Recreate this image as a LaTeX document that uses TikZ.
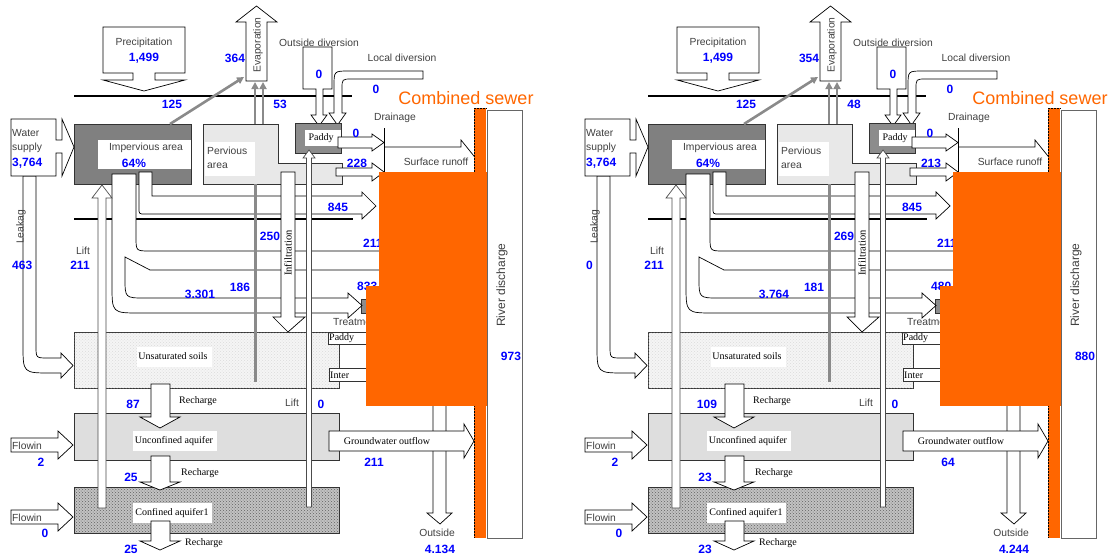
\documentclass[tikz,border=0pt]{standalone}
\usepackage{fontspec}
\setmainfont{Liberation Sans}
\newfontfamily\tnr{Liberation Serif}
\usepackage{xcolor}
\definecolor{sewerorange}{HTML}{FF6600}
\definecolor{numblue}{HTML}{0000FF}
\definecolor{impgray}{HTML}{808080}
\definecolor{pervgray}{HTML}{E8E8E8}
\definecolor{padgray}{HTML}{8C8C8C}
\definecolor{flowgray}{HTML}{8A8A8A}
\usepackage{tikz}
\usetikzlibrary{arrows.meta,patterns}

\begin{document}
\begin{tikzpicture}[x=1pt, y=-1pt,
  blk/.style={draw=black, fill=white, line width=0.7pt, line join=miter},
  lftarr/.style={blk, draw=black!70},
  ground/.style={line width=2pt, black},
  garr/.style={draw=flowgray, line width=2.6pt, -{Triangle[length=7pt,width=7pt]}},
  gline/.style={draw=flowgray, line width=3pt},
  layer/.style={draw=black!80, line width=0.7pt},
  lbl/.style={font=\fontsize{10.3}{11}\selectfont, text=black!75, inner sep=0pt},
  slbl/.style={font=\tnr\fontsize{10}{10}\selectfont, text=black, inner sep=0pt},
  num/.style={font=\bfseries\fontsize{12}{12}\selectfont, text=numblue, inner sep=0pt},
  whitebox/.style={fill=white, draw=none}
]
\useasboundingbox (0,0) rectangle (1110,554);

\foreach \dx/\evap/\perv/\pad/\infl/\impv/\soil/\leak/\rca/\rcb/\rcc/\gw/\outs/\riv/\trt in
  {0/364/53/228/250/3.301/186/463/87/25/25/211/4.134/973/833,
   574/354/48/213/269/3.764/181/0/109/23/23/64/4.244/880/480}
{
\begin{scope}[xshift=\dx pt]
  % ground surface lines
  \draw[ground] (74,96) -- (352,96);
  \draw[ground] (74,219) -- (353,219);

  % precipitation
  \draw[blk] (103,27) -- (185,27) -- (185,73) -- (155,73) -- (155,80) -- (185,80)
    -- (144,91) -- (103,80) -- (133,80) -- (133,73) -- (103,73) -- cycle;
  \node[lbl] (precip) at (144,43) {Precipitation};
  \node[num] (precipnum) at (144,58) {1,499};

  % evaporation
  \draw[blk] (246,81) -- (246,22) -- (236,22) -- (256.5,6) -- (277,22) -- (267,22)
    -- (267,81) -- cycle;
  \node[lbl, rotate=90] (evap) at (258,45) {Evaporation};

  % diversions
  \draw[blk] (303,47) -- (332,47) -- (332,89) -- (323,89) -- (323,115) -- (327,115)
    -- (319,126) -- (311,115) -- (316,115) -- (316,89) -- (303,89) -- cycle;
  \node[lbl] (outdiv) at (319,43) {Outside diversion};
  \draw[blk] (423,71) -- (423,79) -- (352,79) .. controls (342,79) .. (342,89)
    -- (342,113) -- (346,113) -- (337.5,125) -- (329,113) -- (334,113) -- (334,86)
    .. controls (334,71) .. (349,71) -- cycle;
  \node[lbl] (locdiv) at (402,58) {Local diversion};

  % land surface areas
  \draw[layer, fill=impgray] (74,124) rectangle (191,184);
  \fill[whitebox] (98,140) rectangle (191,169);
  \node[lbl] (imp) at (146,148) {Impervious area};
  \node[num] (impnum) at (134,163) {64\%};
  \draw[layer, fill=pervgray] (203,124) -- (278,124) -- (278,163) -- (342,163)
    -- (342,184) -- (203,184) -- cycle;
  \fill[whitebox] (205,142) rectangle (255,176);
  \node[lbl, anchor=west] (perv) at (207,151) {Pervious};
  \node[lbl, anchor=west] (perv2) at (207,166) {area};
  \draw[layer, fill=padgray] (295,123) rectangle (341,153);
  \fill[whitebox] (305,130) rectangle (341,146);
  \node[slbl] (paddy) at (321,138) {Paddy};

  % evaporation flows
  \draw[garr] (170,124) -- (244,77);
  \draw[garr] (255,124) -- (255,82);
  \draw[garr] (263,124) -- (263,82);

  % water supply and leakage
  \draw[blk] (36,176) -- (36,346) .. controls (36,358) .. (48,358) -- (61,358)
    -- (61,353) -- (73,365.5) -- (61,378) -- (61,373) -- (51,373)
    .. controls (23,373) .. (23,345) -- (23,176) -- cycle;
  \draw[blk] (11,119) -- (56,119) -- (56,140) -- (62,140) -- (62,119) -- (74,147)
    -- (62,176) -- (62,153) -- (56,153) -- (56,176) -- (11,176) -- cycle;
  \node[lbl, anchor=west] (water) at (12,133) {Water};
  \node[lbl, anchor=west] (supply) at (12,148) {supply};
  \node[num, anchor=west] (supplynum) at (12,163) {3,764};
  \node[lbl, rotate=90] (leak) at (21,227) {Leakag};

  % subsurface layers
  \draw[layer, fill=black!4] (74,332) rectangle (339,388);
  \fill[pattern=crosshatch dots, pattern color=black!14] (74,332) rectangle (339,388);
  \fill[whitebox] (137,347) rectangle (212,367);
  \node[slbl] (unsat) at (173,356) {Unsaturated soils};
  \draw[layer, fill=white] (328,332) rectangle (385,344);
  \node[slbl, anchor=west] (unpaddy) at (329,338.5) {Paddy};
  \draw[layer, fill=white] (329,368) rectangle (385,381);
  \node[slbl, anchor=west] (inter) at (330,375) {Inter};
  \draw[layer, fill=black!13] (74,413) rectangle (339,460);
  \fill[whitebox] (133,431) rectangle (217,451);
  \node[slbl] (unconf) at (174,441) {Unconfined aquifer};
  \draw[layer, fill=black!24] (74,487) rectangle (339,533);
  \fill[pattern=crosshatch dots, pattern color=black!62] (74,487) rectangle (339,533);
  \draw[layer] (74,487) rectangle (339,533);
  \fill[whitebox] (133,503) rectangle (212,523);
  \node[slbl] (conf) at (172,513) {Confined aquifer1};

  % treatment
  \draw[layer, fill=padgray] (361,299) rectangle (380,313);
  \node[lbl, anchor=west] (treat) at (333,322) {Treatment};

  % impervious outflows
  \draw[blk] (136,174) -- (136,237) .. controls (136,251) .. (150,251) -- (385,251)
    -- (385,270) -- (150,270) -- (125,257) -- (125,278) .. controls (125,298) .. (145,298)
    -- (348,298) -- (348,293) -- (362,305.5) -- (348,318) -- (348,313) -- (140,313)
    .. controls (112,313) .. (112,285) -- (112,174) -- cycle;
  \draw[blk] (152,172) -- (152,196) -- (362,196) -- (362,192) -- (376,206) -- (362,219)
    -- (362,214) -- (145,214) .. controls (139,214) .. (139,208) -- (139,172) -- cycle;

  % infiltration
  \draw[blk] (281,172) -- (295,172) -- (295,317) -- (305,317) -- (288,332) -- (273,317)
    -- (281,317) -- cycle;
  \node[slbl, font=\tnr\fontsize{10.5}{10.5}\selectfont, rotate=90] (infil) at (288,253) {Infiltration};
  \draw[gline] (255,184) -- (255,382);

  % lifts
  \draw[lftarr] (98,508) -- (98,198) -- (92,198) -- (102,185) -- (112,198) -- (106,198)
    -- (106,508) -- cycle;
  \draw[lftarr] (306.5,507) -- (306.5,158) -- (303,158) -- (309,150) -- (315,158)
    -- (311.5,158) -- (311.5,507) -- cycle;

  % paddy and pervious runoff, drainage
  \draw[blk] (338,137) -- (372,137) -- (372,134) -- (384,142.5) -- (372,151) -- (372,148)
    -- (338,148) -- cycle;
  \draw[blk] (336,168) -- (372,168) -- (372,163) -- (384,172) -- (372,181) -- (372,176)
    -- (336,176) -- cycle;
  \draw[blk] (384,147) -- (461,147) -- (461,140) -- (482,166) -- (461,192) -- (461,185)
    -- (384,185);
  \draw[line width=1pt] (384,128) -- (384,182);
  \node[lbl] (drain) at (395,118) {Drainage};
  \node[lbl] (surf) at (436,162) {Surface runoff};

  % recharge
  \draw[blk] (151,384) -- (170,384) -- (170,417) -- (180,417) -- (160,428) -- (140,417)
    -- (151,417) -- cycle;
  \draw[blk] (151,456) -- (170,456) -- (170,482) -- (180,482) -- (160,490) -- (140,482)
    -- (151,482) -- cycle;
  \draw[blk] (151,521) -- (170,521) -- (170,541) -- (180,541) -- (160,550) -- (140,541)
    -- (151,541) -- cycle;
  \node[slbl] (rch1) at (198,401) {Recharge};
  \node[slbl] (rch2) at (200,473) {Recharge};
  \node[slbl] (rch3) at (204,543) {Recharge};

  % flowin
  \draw[blk] (11,438) -- (58,438) -- (58,431) -- (73,445) -- (58,459) -- (58,452)
    -- (11,452) -- cycle;
  \node[lbl, anchor=west] (flow1) at (12,446) {Flowin};
  \draw[blk] (11,510) -- (58,510) -- (58,503) -- (73,517) -- (58,531) -- (58,524)
    -- (11,524) -- cycle;
  \node[lbl, anchor=west] (flow2) at (12,518) {Flowin};

  % outside and groundwater outflow
  \draw[blk] (433,398) -- (433,513) -- (427,513) -- (440,524) -- (452,513) -- (446,513)
    -- (446,398);
  \node[lbl] (outside) at (437,533) {Outside};
  \draw[blk] (329,431) -- (464,431) -- (464,424) -- (474,441) -- (464,458) -- (464,451)
    -- (329,451) -- cycle;
  \node[slbl] (gwout) at (387,441) {Groundwater outflow};
  \node[lbl] (lift2) at (292,403) {Lift};
  \node[lbl] (lift1) at (83,251) {Lift};

  % numbers
  \node[num] at (235,58) {\evap};
  \node[num] at (172,104) {125};
  \node[num] at (280,104) {\perv};
  \node[num] at (319,74) {0};
  \node[num] at (376,89) {0};
  \node[num] at (356,133) {0};
  \node[num] at (357,163) {\pad};
  \node[num] at (338,207) {845};
  \node[num] at (270,236) {\infl};
  \node[num, anchor=west] at (363,243) {211};
  \node[num] at (240,287) {\soil};
  \node[num] at (200,294) {\impv};
  \node[num, anchor=west] at (357,286) {\trt};
  \node[num, anchor=west] at (12,265) {\leak};
  \node[num] at (80,265) {211};
  \node[num] at (133,404) {\rca};
  \node[num] at (131,477) {\rcb};
  \node[num] at (131,549) {\rcc};
  \node[num] at (41,462) {2};
  \node[num] at (45,533) {0};
  \node[num] at (321,404) {0};
  \node[num] at (374,462) {\gw};
  \node[num] at (440,549) {\outs};

  % combined sewer
  \fill[sewerorange] (474,108) rectangle (486,538);
  \fill[sewerorange] (379,172) rectangle (487,286);
  \fill[sewerorange] (366,286) rectangle (487,406);
  \draw[densely dotted, line width=0.5pt] (486,108) -- (474,108) -- (474,172);
  \draw[densely dotted, line width=0.5pt] (474,406) -- (474,538);
  \node[font=\fontsize{18}{18}\selectfont, text=sewerorange, inner sep=0pt] (sewer) at (466,98) {Combined sewer};

  % river discharge
  \draw[draw=black!60, line width=0.8pt, fill=white] (487,110) rectangle (522,538);
  \node[lbl, font=\fontsize{12}{12}\selectfont, rotate=90] (river) at (502,285) {River discharge};
  \node[num] at (511,356) {\riv};
\end{scope}
}
\end{tikzpicture}
\end{document}
